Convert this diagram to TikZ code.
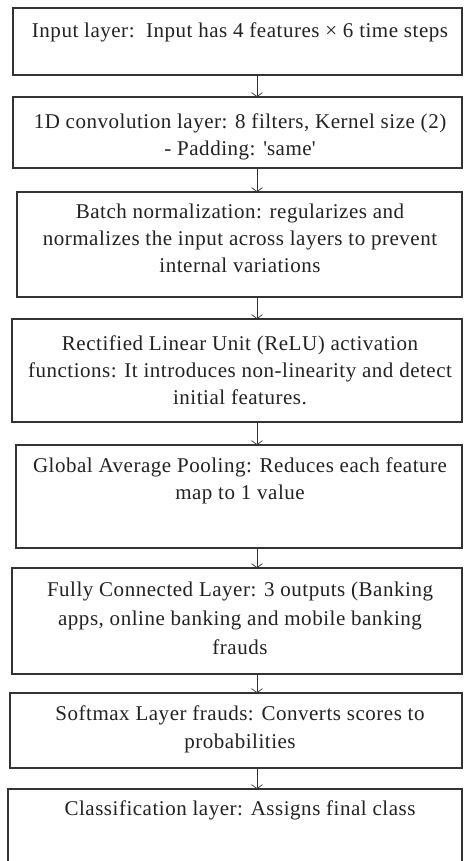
\documentclass[tikz,border=0pt]{standalone}
\usepackage{fontspec}
\setmainfont[LetterSpace=2.5]{Liberation Serif}
\usetikzlibrary{arrows.meta}
\definecolor{ink}{HTML}{222222}
\definecolor{edge}{HTML}{333333}
\tikzset{
  box/.style={draw=edge, line width=1.1pt, rectangle, inner sep=0pt, outer sep=0pt, anchor=north west},
  txt/.style={text=ink, align=center, inner sep=0pt, anchor=north, font=\fontsize{21}{27}\selectfont},
  flow/.style={draw=edge, line width=0.7pt, -{Straight Barb[length=4pt,width=11pt,line width=0.7pt]}}
}
\begin{document}
\begin{tikzpicture}[x=1pt,y=-1pt]
\useasboundingbox (0,0) rectangle (463,861);
\clip (0,0) rectangle (463,861);
\fill[white] (0,0) rectangle (463,861);
\coordinate (ax) at (257,0);
\coordinate (tx) at (240,0);
% boxes
\node[box, minimum width=449pt, minimum height=67pt] (b1) at (13,8) {};
\node[box, minimum width=449pt, minimum height=71pt] (b2) at (13,97) {};
\node[box, minimum width=445pt, minimum height=105pt] (b3) at (17,192) {};
\node[box, minimum width=450pt, minimum height=103pt] (b4) at (12,319) {};
\node[box, minimum width=446pt, minimum height=103pt] (b5) at (16,445) {};
\node[box, minimum width=450pt, minimum height=106pt] (b6) at (12,568) {};
\node[box, minimum width=452pt, minimum height=75pt] (b7) at (10,693) {};
\node[box, minimum width=454pt, minimum height=80pt] (b8) at (8,789) {};
% texts
\node[txt] (t1) at ([yshift=-15pt]b1.north -| tx) {Input layer:\ \ Input has 4 features × 6 time steps};
\node[txt] (t2) at ([yshift=-17pt]b2.north -| tx) {1D convolution layer: 8 filters, Kernel size (2)\\- Padding: \textquotesingle same\textquotesingle};
\node[txt] (t3) at ([yshift=-12pt]b3.north -| tx) {Batch normalization: regularizes and\\normalizes the input across layers to prevent\\internal variations};
\node[txt] (t4) at ([yshift=-17pt]b4.north -| tx) {Rectified Linear Unit (ReLU) activation\\functions: It introduces non-linearity and detect\\initial features.};
\node[txt] (t5) at ([yshift=-13pt]b5.north -| tx) {Global Average Pooling: Reduces each feature\\map to 1 value};
\node[txt] (t6) at ([yshift=-14pt]b6.north -| tx) {Fully Connected Layer: 3 outputs (Banking\\[2pt]apps, online banking and mobile banking\\[2pt]frauds};
\node[txt] (t7) at ([yshift=-13pt]b7.north -| tx) {Softmax Layer frauds: Converts scores to\\[1pt]probabilities};
\node[txt] (t8) at ([yshift=-12pt]b8.north -| tx) {Classification layer: Assigns final class};
% arrows
\draw[flow] (b1.south -| ax) -- (b2.north -| ax);
\draw[flow] (b2.south -| ax) -- (b3.north -| ax);
\draw[flow] (b3.south -| ax) -- (b4.north -| ax);
\draw[flow] (b4.south -| ax) -- (b5.north -| ax);
\draw[flow] (b5.south -| ax) -- (b6.north -| ax);
\draw[flow] (b6.south -| ax) -- (b7.north -| ax);
\draw[flow] (b7.south -| ax) -- (b8.north -| ax);
\end{tikzpicture}
\end{document}
